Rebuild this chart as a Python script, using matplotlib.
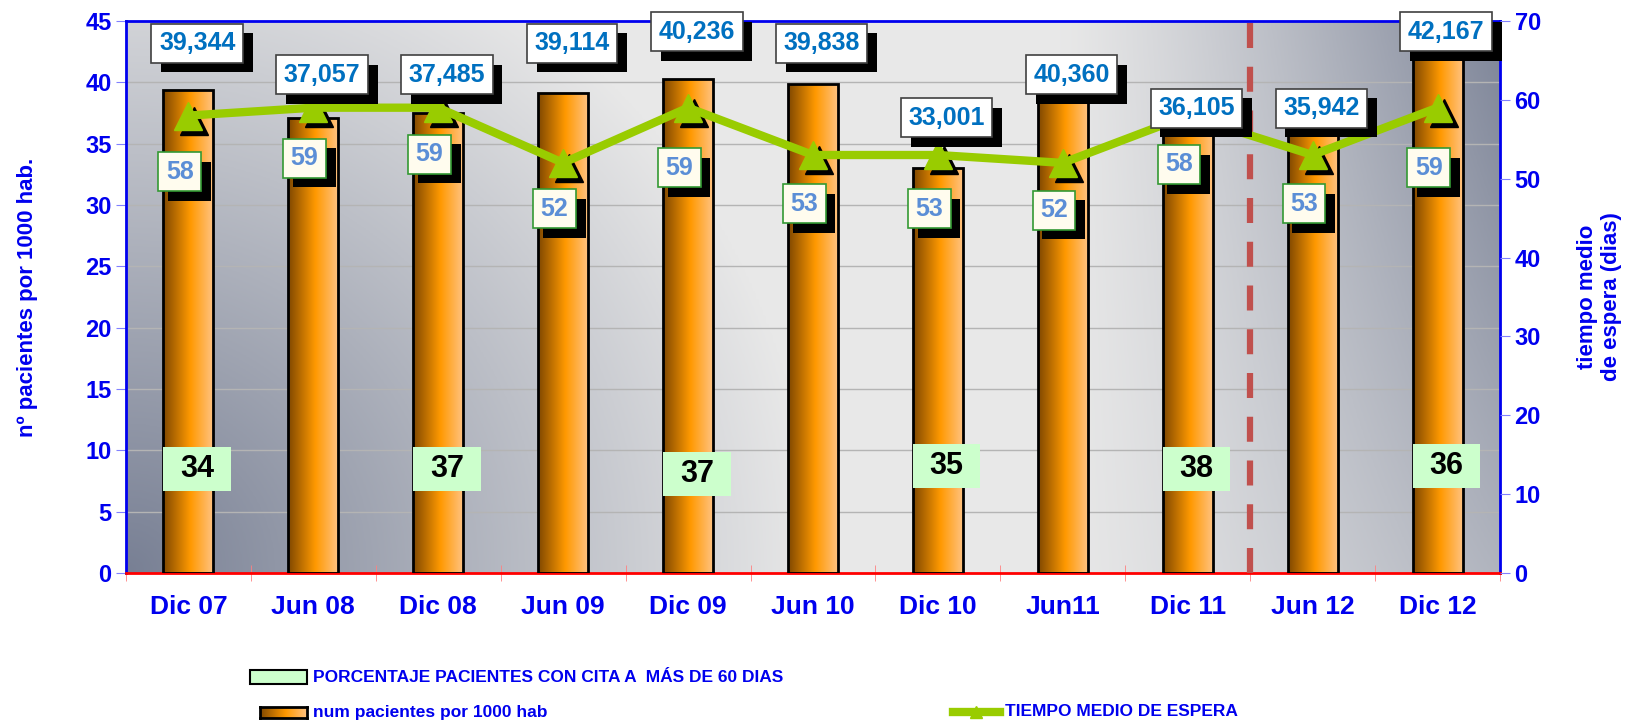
import numpy as np
import matplotlib
matplotlib.use('Agg')
import matplotlib.pyplot as plt
import matplotlib.patheffects as pe
from matplotlib.transforms import offset_copy
from matplotlib.patches import Rectangle
from matplotlib.lines import Line2D

plt.rcParams['font.family'] = ['Liberation Sans', 'DejaVu Sans']
plt.rcParams['font.weight'] = 'bold'
plt.rcParams['axes.labelweight'] = 'bold'

# data
periods = ['Dic 07', 'Jun 08', 'Dic 08', 'Jun 09', 'Dic 09', 'Jun 10',
           'Dic 10', 'Jun11', 'Dic 11', 'Jun 12', 'Dic 12']
patients_per_1000 = [39.344, 37.057, 37.485, 39.114, 40.236, 39.838,
                     33.001, 40.360, 36.105, 35.942, 42.167]
patients_labels = ['39,344', '37,057', '37,485', '39,114', '40,236', '39,838',
                   '33,001', '40,360', '36,105', '35,942', '42,167']
wait_days = [58, 59, 59, 52, 59, 53, 53, 52, 58, 53, 59]
pct_periods = ['Dic 07', 'Dic 08', 'Dic 09', 'Dic 10', 'Dic 11', 'Dic 12']
pct_over_60 = [34, 37, 37, 35, 38, 36]

# label placement (layout only)
bar_label_y = [43.2, 40.6, 40.6, 43.2, 44.1, 43.2, 37.1, 40.6, 37.9, 37.9, 44.1]
wait_label_y = [50.9, 52.6, 53.1, 46.2, 51.4, 46.8, 46.2, 46.0, 51.8, 46.8, 51.4]
pct_label_y = [8.5, 8.5, 8.1, 8.7, 8.5, 8.7]

BLUE = '#0000EE'
x = np.arange(len(periods))

fig = plt.figure(figsize=(16.34, 7.22), dpi=100)
ax = fig.add_axes([0.0771, 0.2064, 0.8409, 0.7646])
ax.set_xlim(-0.5, 10.5)
ax.set_ylim(0, 45)

# background gradient
u = np.linspace(0, 1, 400)
v = np.linspace(0, 1, 200)
U, V = np.meshgrid(u, v)
t_left = np.clip(1 - np.sqrt((U / 0.5) ** 2 + (V / 1.25) ** 2), 0, 1)
t_right = np.clip((U - 0.68) / 0.32, 0, 1) ** 1.2 * (0.5 + 0.45 * V)
t = np.maximum(t_left, t_right)
light = np.array([0.91, 0.91, 0.91])
dark = np.array([0.47, 0.50, 0.58])
bg = light * (1 - t[..., None]) + dark * t[..., None]
ax.imshow(bg, extent=(-0.5, 10.5, 0, 45), origin='lower', aspect='auto', zorder=0)

for yv in range(5, 45, 5):
    ax.axhline(yv, color='#B4B4B4', lw=1, zorder=1)

# bars with horizontal gradient
bar_w = 0.4
grad = np.linspace(0, 1, 100)
c0 = np.array([0.50, 0.28, 0.0])
c1 = np.array([1.0, 0.60, 0.0])
c2 = np.array([1.0, 0.76, 0.50])
cols = np.where(grad[:, None] < 0.55,
                c0 + (c1 - c0) * (grad[:, None] / 0.55),
                c1 + (c2 - c1) * ((grad[:, None] - 0.55) / 0.45))
bar_img = cols[None, :, :]
bars = ax.bar(x, patients_per_1000, width=bar_w, facecolor='none',
              edgecolor='black', lw=2, zorder=3)
for b, val in zip(bars, patients_per_1000):
    im = ax.imshow(bar_img, extent=(b.get_x(), b.get_x() + bar_w, 0, val),
                   aspect='auto', zorder=2)
    im.set_clip_path(b)

# axes styling
for s in ['left', 'right', 'top']:
    ax.spines[s].set_color(BLUE)
    ax.spines[s].set_linewidth(2)
ax.spines['bottom'].set_color('red')
ax.spines['bottom'].set_linewidth(2)
ax.set_yticks(range(0, 46, 5))
ax.tick_params(axis='y', colors=BLUE, labelsize=17, length=7, color='#8080FF')
ax.set_xticks(x)
ax.set_xticklabels(periods)
ax.set_xticks(np.arange(-0.5, 11, 1), minor=True)
ax.tick_params(axis='x', which='major', length=0, pad=16, labelsize=19, labelcolor=BLUE)
ax.tick_params(axis='x', which='minor', length=12, direction='inout', color='#FF8080')
ax.set_ylabel('nº pacientes por 1000 hab.', color=BLUE, fontsize=16, labelpad=34)

# secondary axis
ax2 = ax.twinx()
ax2.set_ylim(0, 70)
ax2.set_yticks(range(0, 71, 10))
ax2.tick_params(axis='y', colors=BLUE, labelsize=17, length=7, color='#8080FF')
for s in ax2.spines.values():
    s.set_visible(False)
ax2.patch.set_visible(False)
ax2.set_ylabel('tiempo medio\nde espera (dias)', color=BLUE, fontsize=16,
               labelpad=26)

# dashed separator
ax2.plot([8.5, 8.5], [0, 70], color='#C0504D', lw=4.5, ls=(0, (4, 3)),
         zorder=2, clip_on=False)

shadow_tr = offset_copy(ax2.transData, fig=fig, x=6, y=-5, units='dots')
ax2.plot(x, wait_days, ls='none', marker='^', ms=20, color='black',
         transform=shadow_tr, zorder=3)
ax2.plot(x, wait_days, color='#99CC00', lw=6, marker='^', ms=20, zorder=4)

shadow = [pe.SimplePatchShadow(offset=(7, -7), shadow_rgbFace='black', alpha=1.0),
          pe.Normal()]


def boxed(xx, yy, txt, trans, fs, tcolor, fc, ec):
    tx = ax2.text(xx, yy, txt, transform=trans, fontsize=fs, color=tcolor,
                  ha='center', va='center', zorder=6,
                  bbox=dict(boxstyle='square,pad=0.3', fc=fc, ec=ec, lw=1.2))
    tx.get_bbox_patch().set_path_effects(shadow)


for xi, yl, txt in zip(x, bar_label_y, patients_labels):
    boxed(xi + 0.07, yl, txt, ax.transData, 18, '#0070C0', 'white', '#404040')

for xi, yl, val in zip(x, wait_label_y, wait_days):
    boxed(xi - 0.07, yl, str(val), ax2.transData, 18, '#5B8ED6', '#FFFCEE', '#339933')

pct_w, pct_h = 0.54, 3.6
for p, yl, val in zip(pct_periods, pct_label_y, pct_over_60):
    xi = periods.index(p) + 0.07
    ax2.add_patch(Rectangle((xi - pct_w / 2, yl - pct_h / 2), pct_w, pct_h,
                            transform=ax.transData, fc='#CCFFCC', ec='none', zorder=5))
    ax2.text(xi, yl, str(val), transform=ax.transData, fontsize=22,
             color='black', ha='center', va='center', zorder=6)

# legend (manual)
W, H = 1634, 722
fig.add_artist(Rectangle((250 / W, 1 - 684 / H), 57 / W, 14 / H,
                         transform=fig.transFigure, fc='#CCFFCC', ec='black', lw=1.5))
fig.text(313 / W, 1 - 678 / H, 'PORCENTAJE PACIENTES CON CITA A  MÁS DE 60 DIAS',
         color=BLUE, fontsize=12.5, va='center')
lax = fig.add_axes([260 / W, 1 - 718 / H, 47 / W, 11 / H])
lax.imshow(bar_img, aspect='auto', extent=(0, 1, 0, 1))
lax.set_xticks([])
lax.set_yticks([])
for s in lax.spines.values():
    s.set_linewidth(2)
fig.text(313 / W, 1 - 712 / H, 'num pacientes por 1000 hab', color=BLUE,
         fontsize=12.5, va='center')
fig.add_artist(Line2D([953 / W, 1000 / W], [1 - 712 / H, 1 - 712 / H],
                      transform=fig.transFigure, color='#99CC00', lw=6))
fig.add_artist(Line2D([976 / W], [1 - 712 / H], transform=fig.transFigure,
                      color='#99CC00', marker='^', ms=9, ls='none'))
fig.text(1005 / W, 1 - 712 / H, 'TIEMPO MEDIO DE ESPERA', color=BLUE,
         fontsize=12.5, va='center')

fig.savefig('out.png', dpi=100)
